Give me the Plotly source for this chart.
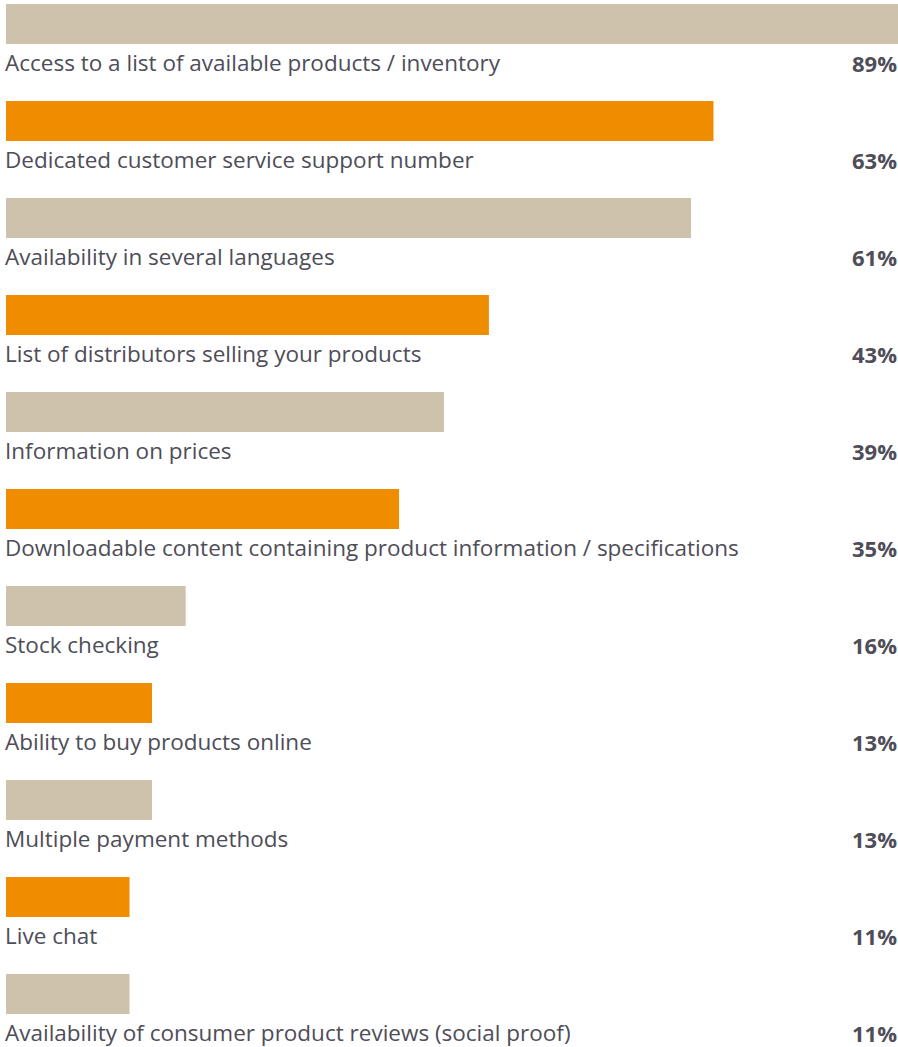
import plotly.graph_objects as go

categories = [
    "Access to a list of available products / inventory",
    "Dedicated customer service support number",
    "Availability in several languages",
    "List of distributors selling your products",
    "Information on prices",
    "Downloadable content containing product information / specifications",
    "Stock checking",
    "Ability to buy products online",
    "Multiple payment methods",
    "Live chat",
    "Availability of consumer product reviews (social proof)",
]
values = [89, 63, 61, 43, 39, 35, 16, 13, 13, 11, 11]
value_labels = ["89%", "63%", "61%", "43%", "39%", "35%", "16%", "13%", "13%", "11%", "11%"]

BEIGE = "#CEC2AC"
ORANGE = "#F08C00"
TEXT = "#4E4D58"
FONT = "Open Sans"

W, H = 898, 1047
PITCH = 97.0      # px between rows
BAR_PX = 40       # bar thickness in px
TOP_PX = 24       # centre of first bar from top

idx = list(range(len(categories)))
colors = [BEIGE if i % 2 == 0 else ORANGE for i in idx]

fig = go.Figure(
    go.Bar(
        x=values,
        y=idx,
        orientation="h",
        marker=dict(color=colors, line=dict(width=0)),
        width=BAR_PX / PITCH,
        hoverinfo="skip",
    )
)

label_off = 38.5 / PITCH
for i, (cat, lab) in enumerate(zip(categories, value_labels)):
    fig.add_annotation(
        x=0, xref="paper", y=i + label_off, yref="y",
        text=cat, showarrow=False, xanchor="left", yanchor="middle",
        xshift=-2, borderpad=0,
        font=dict(family=FONT, size=22.5, color=TEXT),
    )
    fig.add_annotation(
        x=1, xref="paper", y=i + label_off, yref="y",
        text=f"<b>{lab}</b>", showarrow=False, xanchor="right", yanchor="middle",
        xshift=0, borderpad=0,
        font=dict(family=FONT, size=22, color=TEXT),
    )

fig.update_layout(
    width=W, height=H,
    margin=dict(l=6, r=0, t=0, b=0),
    paper_bgcolor="white", plot_bgcolor="white",
    showlegend=False,
    xaxis=dict(range=[0, 892 / 11.23], visible=False, fixedrange=True),
    yaxis=dict(
        range=[(H - TOP_PX) / PITCH, -TOP_PX / PITCH],
        visible=False, fixedrange=True,
    ),
)

fig.write_html("out.html")
